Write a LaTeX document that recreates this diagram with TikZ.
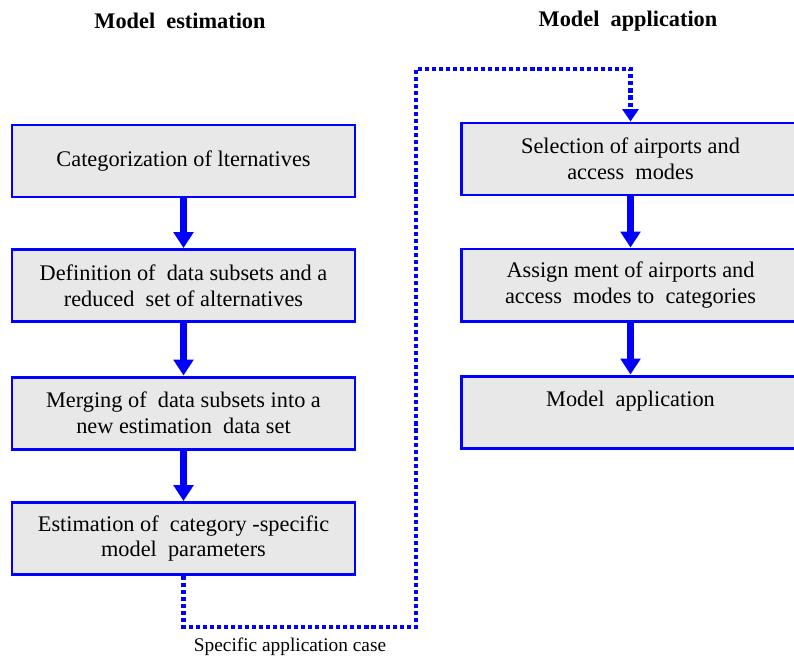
\documentclass[tikz,border=0pt]{standalone}
\usepackage{fontspec}
\setmainfont{Liberation Serif}
\usepackage{xcolor}
\usepackage{tikz}
\usetikzlibrary{arrows.meta, positioning, calc}

\definecolor{boxfill}{HTML}{E8E8E8}

\begin{document}
\begin{tikzpicture}[
    stepbox/.style={draw=blue, fill=boxfill, line width=1.7pt, minimum height=1.44cm,
        align=center, inner sep=2pt, font=\fontsize{12.7}{14.7}\selectfont},
    leftbox/.style={stepbox, minimum width=6.86cm},
    rightbox/.style={stepbox, minimum width=6.78cm},
    flow/.style={draw=blue, line width=4pt, -{Triangle[width=11pt, length=9pt]}},
    dotline/.style={draw=blue, line width=2.3pt, dash pattern=on 2.3pt off 1.7pt,
        -{Triangle[width=9pt, length=7pt]}},
    heading/.style={font=\fontsize{12.7}{15}\selectfont\bfseries}
  ]
            \useasboundingbox (0,0) rectangle (15.88,-13.16);

            % titles
            \node[heading] (esthead) at (3.6,-0.42) {Model\ \ estimation};
            \node[heading] (apphead) at (12.56,-0.42) {Model\ \ application};

            % model estimation
            \node[leftbox] (est1) at (3.67,-3.22) {Categorization of lternatives};
            \node[leftbox] (est2) at (3.67,-5.71) {Definition of\ \ data subsets and a\\reduced\ \ set of alternatives};
            \node[leftbox] (est3) at (3.67,-8.26) {Merging of\ \ data subsets into a\\new estimation\ \ data set};
            \node[leftbox] (est4) at (3.67,-10.77) {Estimation of\ \ category -specific\\model\ \ parameters};

            % model application
            \node[rightbox] (app1) at (12.61,-3.18) {Selection of airports and\\access\ \ modes};
            \node[rightbox] (app2) at (12.61,-5.70) {Assign ment of airports and\\access\ \ modes to\ \ categories};
            \node[rightbox] (app3) at (12.61,-8.24) {Model\ \ application\\\mbox{}};

            \draw[flow] (est1) -- (est2);
            \draw[flow] (est2) -- (est3);
            \draw[flow] (est3) -- (est4);
            \draw[flow] (app1) -- (app2);
            \draw[flow] (app2) -- (app3);

            % link between the two parts
            \coordinate (bend1) at (8.32,-12.54);
            \coordinate (bend2) at (8.32,-1.38);
            \draw[dotline] (est4.south) |- (bend1) -- (bend2) -| (app1.north);
            \node[font=\fontsize{11}{13}\selectfont] (caselabel) at (5.8,-12.94) {Specific application case};
        \end{tikzpicture}
\end{document}
